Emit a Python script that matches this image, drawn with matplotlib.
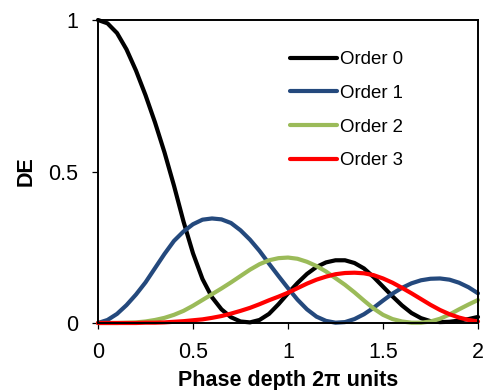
import matplotlib
matplotlib.use("Agg")
import matplotlib.pyplot as plt

phase = [0.00, 0.05, 0.10, 0.15, 0.20, 0.25, 0.30, 0.35, 0.40, 0.45,
         0.50, 0.55, 0.60, 0.65, 0.70, 0.75, 0.80, 0.85, 0.90, 0.95,
         1.00, 1.05, 1.10, 1.15, 1.20, 1.25, 1.30, 1.35, 1.40, 1.45,
         1.50, 1.55, 1.60, 1.65, 1.70, 1.75, 1.80, 1.85, 1.90, 1.95, 2.00]

order0 = [1.000, 0.989, 0.957, 0.903, 0.833, 0.752, 0.662, 0.563, 0.453, 0.335,
          0.230, 0.145, 0.085, 0.045, 0.019, 0.005, 0.002, 0.010, 0.030, 0.062,
          0.098, 0.132, 0.162, 0.185, 0.200, 0.207, 0.207, 0.198, 0.180, 0.152,
          0.120, 0.088, 0.058, 0.033, 0.016, 0.006, 0.003, 0.004, 0.008, 0.013, 0.020]

order1 = [0.000, 0.010, 0.030, 0.059, 0.094, 0.134, 0.181, 0.228, 0.271, 0.302,
          0.326, 0.341, 0.345, 0.342, 0.330, 0.306, 0.275, 0.238, 0.196, 0.155,
          0.115, 0.077, 0.045, 0.021, 0.007, 0.001, 0.003, 0.013, 0.029, 0.050,
          0.074, 0.097, 0.116, 0.131, 0.141, 0.146, 0.147, 0.143, 0.133, 0.118, 0.098]

order2 = [0.000, 0.000, 0.000, 0.001, 0.002, 0.005, 0.010, 0.017, 0.027, 0.040,
          0.057, 0.076, 0.095, 0.114, 0.134, 0.155, 0.176, 0.194, 0.207, 0.214,
          0.216, 0.212, 0.202, 0.188, 0.170, 0.148, 0.126, 0.101, 0.074, 0.048,
          0.027, 0.013, 0.005, 0.001, 0.001, 0.005, 0.014, 0.028, 0.045, 0.061, 0.076]

order3 = [0.000, 0.000, 0.000, 0.000, 0.000, 0.001, 0.001, 0.002, 0.004, 0.006,
          0.009, 0.012, 0.017, 0.023, 0.031, 0.040, 0.050, 0.062, 0.075, 0.087,
          0.100, 0.115, 0.130, 0.143, 0.153, 0.161, 0.165, 0.166, 0.164, 0.158,
          0.147, 0.133, 0.116, 0.098, 0.079, 0.060, 0.043, 0.029, 0.018, 0.010, 0.005]

series_labels = ["Order 0", "Order 1", "Order 2", "Order 3"]
series_colors = ["#000000", "#24497D", "#9BBB59", "#FF0000"]

x_ticks = [0, 0.5, 1, 1.5, 2]
x_tick_labels = ["0", "0.5", "1", "1.5", "2"]
y_ticks = [0, 0.5, 1]
y_tick_labels = ["0", "0.5", "1"]

plt.rcParams['font.family'] = ['Liberation Sans', 'DejaVu Sans']

fig = plt.figure(figsize=(4.86, 3.90), dpi=100)
ax = fig.add_axes([98/486, 67/390, 380/486, 303/390])

for vals, lab, col in zip([order0, order1, order2, order3], series_labels, series_colors):
    ax.plot(phase, vals, color=col, lw=3.0, label=lab, solid_capstyle='round',
            solid_joinstyle='round', clip_on=False)

ax.set_xlim(0, 2)
ax.set_ylim(0, 1)
ax.set_xticks(x_ticks)
ax.set_xticklabels(x_tick_labels)
ax.set_yticks(y_ticks)
ax.set_yticklabels(y_tick_labels)
ax.tick_params(axis='both', direction='out', length=4.5, width=0.9, labelsize=15.5,
               colors='black')
ax.tick_params(axis='y', pad=9.5)
ax.tick_params(axis='x', pad=9)
for s in ax.spines.values():
    s.set_linewidth(1.4)
    s.set_color('black')

ax.set_xlabel("Phase depth 2π units", fontsize=15.5, fontweight='bold')
ax.set_ylabel("DE", fontsize=15.5, fontweight='bold')
ax.xaxis.set_label_coords(0.5, -0.19)
ax.xaxis.label.set_va('center')
ax.yaxis.set_label_coords(-0.19, 0.5)
ax.yaxis.label.set_va('center')

leg = ax.legend(loc='upper left', bbox_to_anchor=(192/380, (323-51)/303),
                frameon=False, fontsize=13.4, handlelength=2.55, handletextpad=0.15,
                labelspacing=0.9, borderpad=0, borderaxespad=0)

fig.savefig("out.png", dpi=100)
